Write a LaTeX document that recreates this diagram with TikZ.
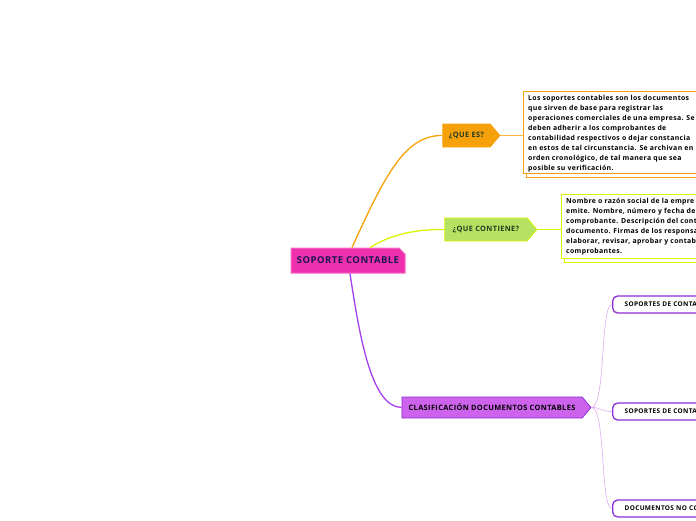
\documentclass[tikz,border=0pt]{standalone}
\usepackage{fontspec}
\setmainfont[LetterSpace=5]{Open Sans}
\usetikzlibrary{shapes.symbols,shapes.misc,positioning}

\definecolor{rootpink}{HTML}{EE2FAE}
\definecolor{rootborder}{HTML}{F36FC6}
\definecolor{rootink}{HTML}{1C1850}
\definecolor{queorange}{HTML}{F7A10A}
\definecolor{queline}{HTML}{FBB040}
\definecolor{leafink}{HTML}{233B20}
\definecolor{contgreen}{HTML}{B6E263}
\definecolor{contborder}{HTML}{D8F400}
\definecolor{clasfill}{HTML}{CD63EC}
\definecolor{clasborder}{HTML}{8E2ED8}
\definecolor{clasline}{HTML}{A540F0}
\definecolor{subline}{HTML}{DDAAF5}

\begin{document}
\begin{tikzpicture}[x=1pt, y=-1pt,
    root/.style={chamfered rectangle, chamfered rectangle corners=north east, chamfered rectangle xsep=3pt, chamfered rectangle ysep=3pt, draw=rootborder, fill=rootpink, line width=1pt, minimum width=114pt, minimum height=25pt, inner sep=0pt, text=rootink, font=\bfseries\fontsize{9.5}{11}\selectfont},
    topic/.style={signal, signal to=east, signal pointer angle=100, line width=0.8pt, minimum height=23pt, inner sep=0pt, text=leafink, font=\bfseries\fontsize{7.4}{8}\selectfont},
    notebox/.style={draw, line width=1pt, fill=white, minimum width=240pt, anchor=north west},
    notetext/.style={align=left, anchor=north west, inner sep=0pt, font=\bfseries\fontsize{6.9}{10}\selectfont},
    subtopic/.style={draw=clasborder, fill=white, rounded corners=5pt, line width=1.3pt, minimum height=17pt, text width=130pt, align=left, inner xsep=12pt, inner ysep=0pt, anchor=west, font=\bfseries\fontsize{6.5}{7}\selectfont},
    branch/.style={line width=1.3pt},
    twig/.style={line width=0.6pt, draw=subline},
]

\useasboundingbox (0,0) rectangle (696,520);
\clip (0,0) rectangle (696,520);

% Root
\node[root] (root) at (348,260.5) {SOPORTE CONTABLE};

% Topics
\node[topic, fill=queorange, draw=queorange, minimum width=57pt] (quees) at (466.5,135.5) {¿QUE ES?};
\node[topic, fill=contgreen, draw=contborder, minimum width=92pt] (contiene) at (486,229.5) {¿QUE CONTIENE?};
\node[topic, fill=clasfill, draw=clasborder, minimum height=21pt, minimum width=189pt, text=black] (clas) at (492,407.5) {CLASIFICACIÓN DOCUMENTOS CONTABLES};

% Notes
\node[notebox, draw=queorange, minimum height=82pt] at (526,95) {};
\node[notebox, draw=queorange, minimum height=82pt] (quebox) at (523,91) {};
\node[notetext] (quetext) at (528,95) {Los soportes contables son los documentos\\
que sirven de base para registrar las\\
operaciones comerciales de una empresa. Se\\
deben adherir a los comprobantes de\\
contabilidad respectivos o dejar constancia\\
en estos de tal circunstancia. Se archivan en\\
orden cronológico, de tal manera que sea\\
posible su verificación.};

\node[notebox, draw=contborder, minimum height=64pt] at (564,198) {};
\node[notebox, draw=contborder, minimum height=64pt] (contbox) at (561,194) {};
\node[notetext] (conttext) at (566,198) {Nombre o razón social de la empre\\
emite. Nombre, número y fecha de\\
comprobante. Descripción del cont\\
documento. Firmas de los responsa\\
elaborar, revisar, aprobar y contabi\\
comprobantes.};

% Subtopics
\node[subtopic] (sub1) at (612,304.5) {SOPORTES DE CONTA};
\node[subtopic] (sub2) at (612,411.5) {SOPORTES DE CONTA};
\node[subtopic] (sub3) at (612,508.5) {DOCUMENTOS NO CO};

% Edges
\draw[branch, draw=queorange] ([xshift=4pt]root.north) .. controls (385,175) and (405,135) .. (quees.west);
\draw[branch, draw=contborder] ([xshift=22pt]root.north) .. controls (390,235) and (415,229) .. (contiene.west);
\draw[branch, draw=clasline] ([xshift=2pt]root.south) .. controls (360,340) and (372,407) .. (clas.west);
\draw[line width=0.8pt, draw=queline] (quees.east) -- (quebox.west |- quees.east);
\draw[line width=0.8pt, draw=contborder] (contiene.east) -- (contbox.west |- contiene.east);
\draw[twig] (clas.east) .. controls (606,407) and (600,304.5) .. (sub1.west);
\draw[twig] (clas.east) .. controls (600,407) and (600,411.5) .. (sub2.west);
\draw[twig] (clas.east) .. controls (606,407) and (600,508.5) .. (sub3.west);

\end{tikzpicture}
\end{document}
